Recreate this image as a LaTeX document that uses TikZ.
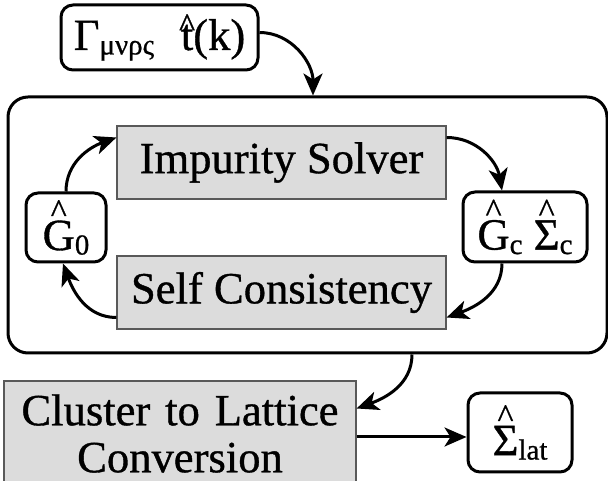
\documentclass[tikz,border=0pt]{standalone}
\usepackage{fontspec}
\setmainfont{Liberation Serif}[FakeBold=0.8]
\usetikzlibrary{arrows.meta}

\newsavebox\hatbox
\newcommand{\hatted}[2][0.62em]{\sbox\hatbox{#2}\rlap{\hbox to \wd\hatbox{\hss\raisebox{#1}{\fontsize{34}{34}\selectfont\textasciicircum}\hss}}\usebox\hatbox}
\newcommand{\lowidx}[1]{\raisebox{-0.1em}{\fontsize{29}{29}\selectfont #1}}
\definecolor{boxgray}{HTML}{DCDCDC}

\begin{document}
\begin{tikzpicture}[x=1pt, y=1pt, font=\fontsize{44.6}{47}\selectfont,
  roundbox/.style={draw, line width=3pt, rounded corners=12pt, inner sep=0pt},
  graybox/.style={draw=black!65, line width=1.2pt, fill=boxgray, inner sep=0pt},
  flow/.style={line width=3pt, -{Stealth[length=22pt, width=19pt, inset=6pt]}}]
\useasboundingbox (0,0) rectangle (608,481);
        \node[roundbox, rounded corners=20pt, minimum width=599pt, minimum height=256pt] (dmft) at (307.5,256){};
        \node[roundbox, minimum width=197pt, minimum height=65pt] (input) at (159.5,443.5){Γ\lowidx{μνρς}\hspace{0.6em}\hatted[0.3em]{t}(k)};
        \node[graybox, minimum width=329pt, minimum height=73pt] (solver) at (281.5,318.5){Impurity Solver};
        \node[graybox, minimum width=329pt, minimum height=73pt] (selfc) at (281.5,188.5){Self Consistency};
        \node[roundbox, minimum width=80pt, minimum height=69pt] (gzero) at (66,253.5){\hatted{G}\lowidx{0}};
        \node[roundbox, minimum width=124pt, minimum height=70pt] (gclus) at (525,254){\hatted{G}\lowidx{c} \hatted{Σ}\lowidx{c}};
        \node[graybox, text width=352pt, align=center, minimum height=105pt] (convert) at (180,47.5){Cluster to Lattice\\Conversion};
        \node[roundbox, minimum width=104pt, minimum height=79pt] (siglat) at (520,48.5){\hatted{Σ}\lowidx{lat}};
        \draw[flow] ([yshift=5pt]input.east) to[out=0, in=90] ([xshift=5.5pt]dmft.north);
        \draw[flow] (gzero.north) to[out=90, in=200] ([yshift=25pt]solver.west);
        \draw[flow] ([yshift=25pt]solver.east) to[out=0, in=100] ([xshift=-23pt]gclus.north);
        \draw[flow] ([xshift=-23pt]gclus.south) to[out=-90, in=20] ([yshift=-25pt]selfc.east);
        \draw[flow] ([yshift=-25pt]selfc.west) to[out=180, in=-70] ([xshift=-3pt]gzero.south);
        \draw[flow] ([xshift=104.5pt]dmft.south) to[out=-90, in=20] ([yshift=25pt]convert.east);
        \draw[flow] ([yshift=-3.5pt]convert.east) -- ([yshift=-4.5pt]siglat.west);
\end{tikzpicture}
\end{document}
